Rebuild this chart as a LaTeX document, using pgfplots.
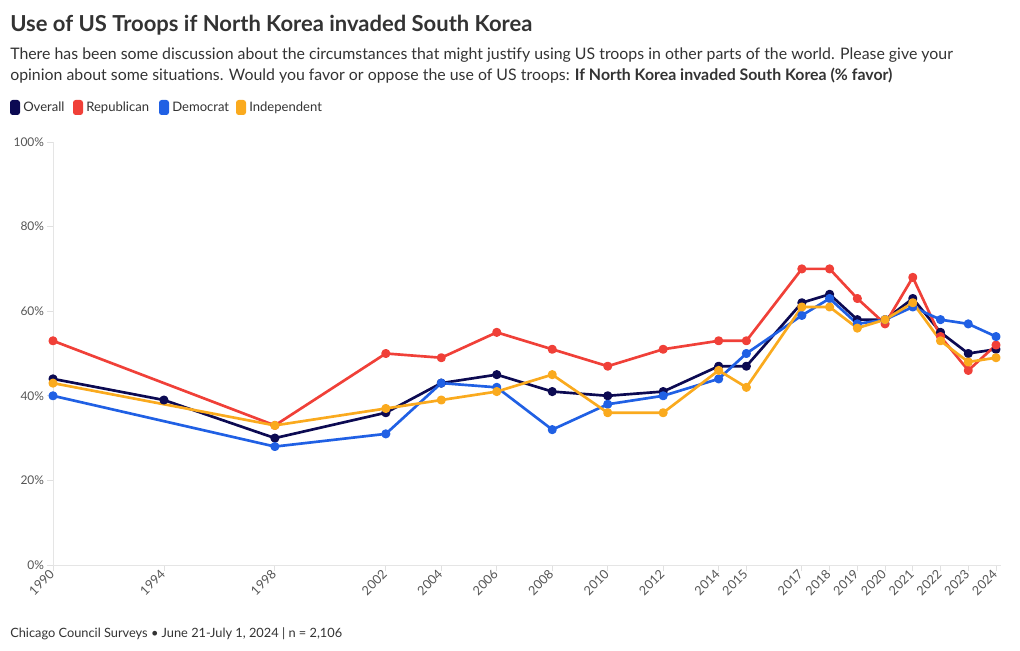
\documentclass[border=0pt]{standalone}
\usepackage{pgfplots}
\pgfplotsset{compat=1.18}
\usepackage{fontspec}
\setmainfont{Lato}
\definecolor{ovr}{RGB}{12,10,82}
\definecolor{rep}{RGB}{240,64,56}
\definecolor{dem}{RGB}{32,96,228}
\definecolor{ind}{RGB}{250,170,30}
\definecolor{txt}{RGB}{51,51,51}
\definecolor{tick}{RGB}{85,85,85}
\begin{document}
\begin{tikzpicture}
\begin{scope}[x=0.75pt,y=0.75pt]
\path[use as bounding box] (0,0) rectangle (1020,650);
% title and subtitle
\node[anchor=base west,inner sep=0pt,text=txt,font=\bfseries\fontsize{16.5}{19}\selectfont] at (10,618) {Use of US Troops if North Korea invaded South Korea};
\node[anchor=base west,inner sep=0pt,text=txt,font=\fontsize{11.9}{14}\selectfont] at (10,590) {There has been some discussion about the circumstances that might justify using US troops in other parts of the world. Please give your};
\node[anchor=base west,inner sep=0pt,text=txt,font=\fontsize{11.9}{14}\selectfont] at (10,569) {opinion about some situations. Would you favor or oppose the use of US troops: \textbf{If North Korea invaded South Korea (\% favor)}};
% legend
\begin{scope}[font=\fontsize{9.8}{11}\selectfont]
\fill[ovr,rounded corners=2pt] (10,535) rectangle (20,550);
\node[anchor=base west,inner sep=0pt,text=txt] at (23,538) {Overall};
\fill[rep,rounded corners=2pt] (73,535) rectangle (83,550);
\node[anchor=base west,inner sep=0pt,text=txt] at (86,538) {Republican};
\fill[dem,rounded corners=2pt] (159,535) rectangle (169,550);
\node[anchor=base west,inner sep=0pt,text=txt] at (172,538) {Democrat};
\fill[ind,rounded corners=2pt] (236,535) rectangle (246,550);
\node[anchor=base west,inner sep=0pt,text=txt] at (249,538) {Independent};
\end{scope}
% footer
\node[anchor=base west,inner sep=0pt,text=txt,font=\fontsize{9.6}{11}\selectfont] at (10,13) {Chicago Council Surveys • June 21-July 1, 2024 | n = 2,106};
\end{scope}
\begin{axis}[
  at={(39.75pt,63.75pt)}, anchor=south west,
  scale only axis, width=707.25pt, height=317.25pt,
  xmin=1990, xmax=2024, ymin=0, ymax=100,
  axis x line*=bottom, axis y line*=left,
  axis line style={draw=black!10, line width=0.6pt, -},
  x axis line style={shorten >=-4pt},
  xtick={1990,1994,1998,2002,2004,2006,2008,2010,2012,2014,2015,2017,2018,2019,2020,2021,2022,2023,2024},
  xticklabels={1990,1994,1998,2002,2004,2006,2008,2010,2012,2014,2015,2017,2018,2019,2020,2021,2022,2023,2024},
  ytick={0,20,40,60,80,100},
  yticklabels={0\%,20\%,40\%,60\%,80\%,100\%},
  tick align=outside, major tick length=4.5pt,
  tick style={draw=black!12, line width=0.6pt},
  xticklabel style={rotate=45, anchor=east, font=\fontsize{9.5}{10}\selectfont, text=tick, inner sep=1pt},
  yticklabel style={font=\fontsize{9}{10}\selectfont, text=tick, inner sep=2pt},
  clip=false,
  every axis plot/.append style={line width=2pt, mark=*, mark size=2.4pt, line join=round},
]
\addplot[color=ovr, mark options={fill=ovr}] coordinates {
(1990,44)(1994,39)(1998,30)(2002,36)(2004,43)(2006,45)(2008,41)(2010,40)(2012,41)(2014,47)(2015,47)(2017,62)(2018,64)(2019,58)(2020,58)(2021,63)(2022,55)(2023,50)(2024,51)};
\addplot[color=rep, mark options={fill=rep}] coordinates {
(1990,53)(1998,33)(2002,50)(2004,49)(2006,55)(2008,51)(2010,47)(2012,51)(2014,53)(2015,53)(2017,70)(2018,70)(2019,63)(2020,57)(2021,68)(2022,54)(2023,46)(2024,52)};
\addplot[color=dem, mark options={fill=dem}] coordinates {
(1990,40)(1998,28)(2002,31)(2004,43)(2006,42)(2008,32)(2010,38)(2012,40)(2014,44)(2015,50)(2017,59)(2018,63)(2019,57)(2020,58)(2021,61)(2022,58)(2023,57)(2024,54)};
\addplot[color=ind, mark options={fill=ind}] coordinates {
(1990,43)(1998,33)(2002,37)(2004,39)(2006,41)(2008,45)(2010,36)(2012,36)(2014,46)(2015,42)(2017,61)(2018,61)(2019,56)(2020,58)(2021,62)(2022,53)(2023,48)(2024,49)};
\end{axis}
\end{tikzpicture}
\end{document}
